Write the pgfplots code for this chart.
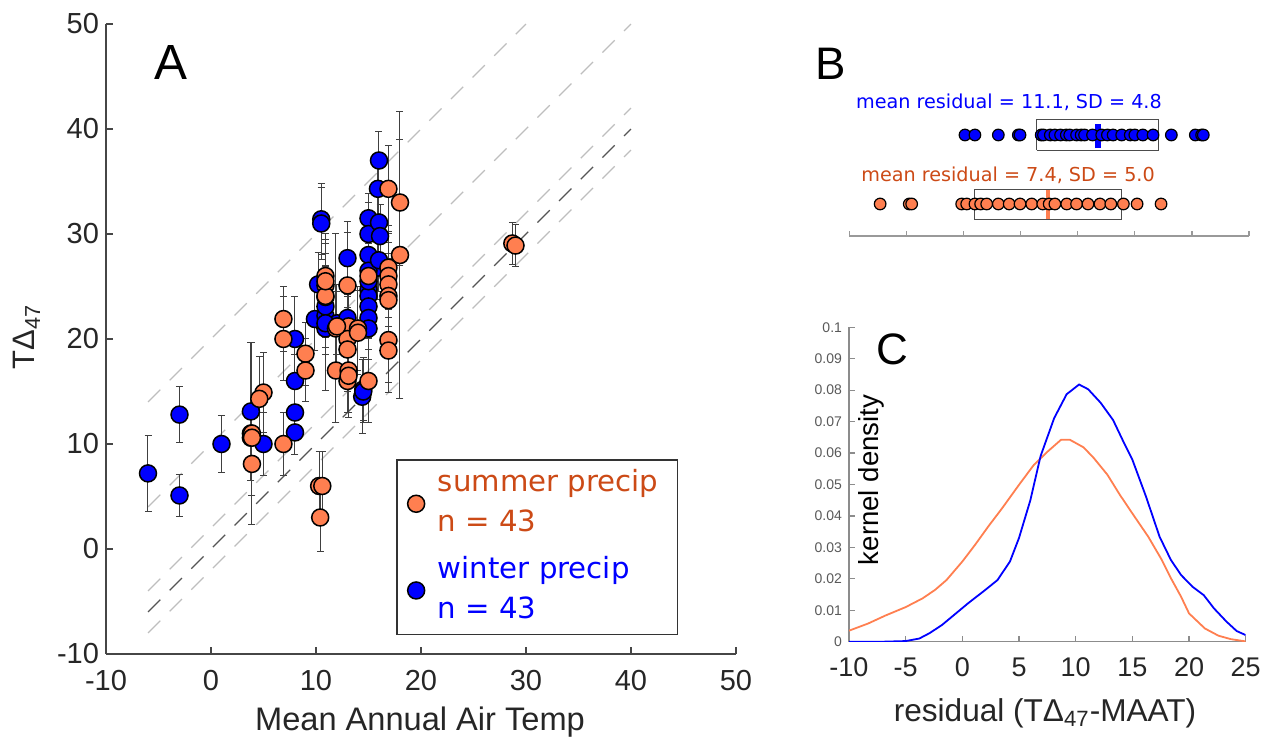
\documentclass[border=0pt]{standalone}
\usepackage{fontspec}
\setmainfont{Liberation Sans}
\newfontfamily\dejavu{DejaVu Sans}
\usepackage{pgfplots}
\pgfplotsset{compat=1.18}
\usepackage{pgfplotstable}

\definecolor{sumfill}{RGB}{255,127,80}
\definecolor{sumtxt}{RGB}{204,74,22}
\definecolor{winfill}{RGB}{0,0,255}
\definecolor{axgray}{RGB}{70,70,70}
\definecolor{lblgray}{RGB}{38,38,38}
\definecolor{lightdash}{RGB}{190,190,190}
\definecolor{darkdash}{RGB}{85,85,85}

\pgfplotsset{mylegimg/.style={legend image code/.code={\path (0pt,0pt) -- (9.7pt,0pt); \draw[##1] plot coordinates {(4.85pt,0pt)};}}}

% Panel A: winter precipitation sites (MAAT, T_D47, error)
\pgfplotstableread{
x y ey
-6.0 7.2 3.6
-3.0 12.8 2.7
-3.0 5.1 2.0
1.0 10.0 2.7
3.8 13.1 6.6
3.8 10.6 2.5
5.0 10.0 3.0
8.0 11.1 2.1
8.0 13.0 2.5
8.0 16.0 2.5
8.0 20.0 4.0
9.9 21.9 3.0
10.9 21.0 5.9
10.9 22.2 3.0
10.9 23.1 3.0
10.2 25.2 3.0
10.5 31.4 3.4
10.5 31.0 3.4
13.0 27.7 3.5
15.0 31.5 2.4
15.0 30.0 3.0
15.0 28.0 3.0
15.0 24.7 3.0
15.0 24.1 3.0
15.0 23.1 3.0
15.0 22.0 3.0
14.4 14.5 3.5
14.5 15.2 3.0
16.0 37.0 2.8
15.9 34.3 3.0
16.0 31.1 3.0
16.1 29.8 3.0
15.9 26.8 3.0
15.0 25.5 3.0
3.8 11.0 2.5
10.9 24.0 3.0
15.0 26.5 3.0
16.0 27.5 3.0
12.0 21.5 3.0
13.0 22.0 3.0
15.0 21.0 3.0
10.9 21.5 3.0
14.5 15.0 3.0
}\winterA

% Panel A: summer precipitation sites
\pgfplotstableread{
x y ey
6.9 21.9 3.1
6.9 20.0 4.0
9.0 18.6 3.0
9.0 17.0 3.0
5.0 14.9 3.8
4.6 14.3 4.0
3.9 11.0 8.7
3.9 8.1 3.0
6.9 10.0 3.0
10.3 6.0 3.3
10.6 6.0 3.3
10.4 3.0 3.2
11.9 21.0 9.0
13.1 21.2 4.0
14.0 21.0 4.0
13.0 20.0 4.0
13.0 19.0 4.0
11.9 17.0 5.0
13.1 17.0 4.0
13.0 16.0 3.0
15.0 16.0 4.0
16.9 19.9 4.0
16.9 18.9 4.0
16.9 34.3 4.1
18.0 33.0 6.0
18.0 28.0 13.7
16.9 26.8 4.0
16.9 26.0 4.0
16.9 25.2 4.0
16.9 24.1 4.0
10.9 26.0 4.0
10.9 25.1 4.0
10.9 24.1 4.0
13.0 25.1 5.0
15.0 26.0 4.0
28.7 29.1 2.0
29.0 28.9 2.0
3.9 10.6 3.0
16.9 23.7 4.0
12.0 21.2 4.0
13.1 16.5 4.0
10.9 25.5 4.0
14.0 20.6 4.0
}\summerA

% Panel B: residuals
\pgfplotstableread{
r y
0.13 2
1.0 2
3.05 2
4.8 2
4.95 2
6.8 2
7.0 2
7.6 2
8.0 2
8.5 2
9.0 2
9.3 2
9.9 2
10.3 2
10.6 2
11.3 2
12.1 2
12.6 2
13.1 2
13.85 2
14.6 2
15.0 2
15.7 2
16.6 2
18.2 2
20.3 2
20.85 2
21.0 2
}\winterB

\pgfplotstableread{
r y
-7.3 1
-4.75 1
-4.54 1
-0.16 1
0.28 1
1.0 1
1.5 1
2.03 1
3.05 1
4.0 1
4.95 1
5.97 1
6.94 1
7.5 1
8.0 1
9.04 1
9.9 1
10.9 1
11.95 1
12.9 1
14.0 1
15.2 1
17.3 1
}\summerB

% Panel C: kernel densities
\pgfplotstableread{
x y
-10 0.0035
-8.3 0.0058
-6.8 0.0083
-5 0.0110
-3.5 0.0138
-2.4 0.0165
-1.4 0.0196
0 0.0255
1.1 0.0307
2.3 0.0367
3.5 0.0424
5 0.0499
6.3 0.0562
7.5 0.0604
8.7 0.0642
9.5 0.0642
10.7 0.0618
11.6 0.0584
12.8 0.0531
13.9 0.0467
15 0.0408
16.4 0.0334
17.6 0.0260
18.4 0.0202
19.3 0.0143
20 0.0090
21.4 0.0042
22.6 0.0019
23.7 0.0008
25 0.0001
}\kdeS

\pgfplotstableread{
x y
-10 0.0
-7 0.0
-5 0.0002
-3.8 0.0010
-2.9 0.0027
-1.8 0.0053
-0.9 0.0080
0.5 0.0122
2.0 0.0164
3.1 0.0196
4.2 0.0255
5.0 0.0330
6.0 0.0450
6.9 0.0590
8.1 0.0711
9.2 0.0787
10.3 0.0818
11.1 0.0803
12.2 0.0760
13.3 0.0705
14.2 0.0637
15 0.0579
16.2 0.0462
17.4 0.0334
18.4 0.0260
19.3 0.0212
20.3 0.0175
21.3 0.0148
22.2 0.0106
23.3 0.0064
24.2 0.0034
25 0.0021
}\kdeW

\begin{document}
\begin{tikzpicture}
\path[use as bounding box] (0,0) rectangle (632.5pt,369pt);

% ---------------- Panel A ----------------
\begin{axis}[
  at={(53pt,42pt)}, anchor=south west,
  scale only axis, width=315pt, height=315pt,
  xmin=-10, xmax=50, ymin=-10, ymax=50,
  xtick={-10,0,10,20,30,40,50}, ytick={-10,0,10,20,30,40,50},
  axis lines=left, axis line style={-, draw=axgray, line width=0.6pt},
  tick align=inside, major tick length=3.5pt,
  tick style={draw=axgray, line width=0.6pt},
  /pgf/number format/assume math mode=true,
  ticklabel style={font=\fontsize{14.5}{17}\selectfont, text=lblgray},
  xticklabel style={yshift=-4.6pt},
  legend style={at={(axis cs:17.62,8.57)}, anchor=north west,
    draw=black!80, line width=0.75pt, fill=white,
    inner xsep=4.85pt, inner ysep=2.3pt, row sep=3.95pt, column sep=6pt,
    nodes={inner sep=0pt, text depth={}},
    font=\dejavu\fontsize{14.6}{19.7}\selectfont,
    cells={anchor=west}},
]
\addplot[lightdash, line width=0.55pt, dash pattern=on 8.7pt off 6.6pt, forget plot] coordinates {(-6,14) (30,50)};
\addplot[lightdash, line width=0.55pt, dash pattern=on 8.7pt off 6.6pt, forget plot] coordinates {(-6,4) (40,50)};
\addplot[lightdash, line width=0.55pt, dash pattern=on 8.7pt off 6.6pt, forget plot] coordinates {(-6,-4) (40,42)};
\addplot[lightdash, line width=0.55pt, dash pattern=on 8.7pt off 6.6pt, forget plot] coordinates {(-6,-8) (40,38)};
\addplot[darkdash, line width=0.65pt, dash pattern=on 8.7pt off 6.6pt, forget plot] coordinates {(-6,-6) (40,40)};

\addplot[forget plot, only marks, mark=none,
  error bars/.cd, y dir=both, y explicit,
  error bar style={draw=black!75, line width=0.5pt},
  error mark options={draw=black!75, line width=0.5pt, mark size=1.75pt, rotate=90}]
  table[x=x, y=y, y error=ey] {\winterA};
\addplot[forget plot, only marks, mark=none,
  error bars/.cd, y dir=both, y explicit,
  error bar style={draw=black!75, line width=0.5pt},
  error mark options={draw=black!75, line width=0.5pt, mark size=1.75pt, rotate=90}]
  table[x=x, y=y, y error=ey] {\summerA};

\addplot[forget plot, only marks, mark=*, mark size=4.25pt,
  mark options={fill=winfill, draw=black, line width=0.75pt}]
  table[x=x, y=y] {\winterA};
\addplot[forget plot, only marks, mark=*, mark size=4.25pt,
  mark options={fill=sumfill, draw=black, line width=0.75pt}]
  table[x=x, y=y] {\summerA};

\addlegendimage{mylegimg, mark=*, mark size=4.25pt, draw=none,
  mark options={fill=sumfill, draw=black, line width=0.75pt}}
\addlegendentry{\textcolor{sumtxt}{\begin{tabular}{@{}l@{\hspace{4.8pt}}}summer precip\\n = 43\end{tabular}}}
\addlegendimage{mylegimg, mark=*, mark size=4.25pt, draw=none,
  mark options={fill=winfill, draw=black, line width=0.75pt}}
\addlegendentry{\textcolor{winfill}{\begin{tabular}{@{}l@{\hspace{4.8pt}}}winter precip\\n = 43\end{tabular}}}
\end{axis}

\node[anchor=base, font=\fontsize{24.7}{28}\selectfont] at (85.4pt,329.35pt) {A};
\node[anchor=base, rotate=90, font=\fontsize{15.5}{18}\selectfont, text=lblgray] at (17.5pt,200.5pt) {TΔ\textsubscript{47}};
\node[anchor=base, font=\fontsize{16.3}{19}\selectfont, text=lblgray] at (210pt,3.8pt) {Mean Annual Air Temp};

% ---------------- Panel B ----------------
\begin{axis}[
  at={(424.65pt,251pt)}, anchor=south west,
  scale only axis, width=199.85pt, height=71.2pt,
  xmin=-10, xmax=25, ymin=0.536, ymax=2.6,
  axis x line=bottom, axis y line=none,
  axis line style={-, draw=black!40, line width=0.6pt},
  xtick={-10,-5,0,5,10,15,20,25}, xticklabels={}, ytick=\empty,
  tick align=inside, major tick length=2.5pt,
  tick style={draw=black!40, line width=0.6pt},
  clip=false,
]
\addplot[only marks, mark=*, mark size=2.9pt,
  mark options={fill=winfill, draw=black, line width=0.6pt}]
  table[x=r, y=y] {\winterB};
\addplot[only marks, mark=*, mark size=2.9pt,
  mark options={fill=sumfill, draw=black, line width=0.6pt}]
  table[x=r, y=y] {\summerB};
\addplot[draw=black!70, line width=0.5pt, mark=none] coordinates {(6.41,1.78) (17.06,1.78) (17.06,2.23) (6.41,2.23) (6.41,1.78)};
\addplot[draw=black!70, line width=0.5pt, mark=none] coordinates {(0.92,0.77) (13.85,0.77) (13.85,1.21) (0.92,1.21) (0.92,0.77)};
\addplot[winfill, line width=2.8pt, mark=none] coordinates {(11.8,1.81) (11.8,2.16)};
\addplot[sumfill, line width=2.1pt, mark=none] coordinates {(7.4,0.78) (7.4,1.2)};
\node[anchor=base, text=winfill, font=\dejavu\fontsize{9.6}{11}\selectfont] at (axis cs:3.98,2.387) {mean residual = 11.1, SD = 4.8};
\node[anchor=base, text=sumtxt, font=\dejavu\fontsize{9.6}{11}\selectfont] at (axis cs:3.9,1.323) {mean residual = 7.4, SD = 5.0};
\end{axis}
\node[anchor=base, font=\fontsize{22.8}{26}\selectfont] at (415.5pt,329pt) {B};

% ---------------- Panel C ----------------
\begin{axis}[
  at={(424.5pt,48.15pt)}, anchor=south west,
  scale only axis, width=198.35pt, height=157.2pt,
  xmin=-10, xmax=25, ymin=0, ymax=0.1,
  axis lines=left, axis line style={-, draw=black!45, line width=0.6pt},
  xtick={-10,-5,0,5,10,15,20,25},
  ytick={0,0.01,0.02,0.03,0.04,0.05,0.06,0.07,0.08,0.09,0.1},
  scaled y ticks=false,
  tick align=inside, major tick length=3pt,
  tick style={draw=black!45, line width=0.6pt},
  /pgf/number format/assume math mode=true,
  xticklabel style={font=\fontsize{13.5}{16}\selectfont, text=lblgray, yshift=-4.5pt},
  yticklabel style={font=\fontsize{7}{8}\selectfont, text=black!65,
    /pgf/number format/fixed, /pgf/number format/precision=2},
]
\addplot[sumfill, line width=0.9pt, mark=none] table[x=x, y=y] {\kdeS};
\addplot[winfill, line width=0.9pt, mark=none] table[x=x, y=y] {\kdeW};
\end{axis}
\node[anchor=base, font=\fontsize{22}{26}\selectfont] at (446pt,186.5pt) {C};
\node[anchor=base, rotate=90, font=\fontsize{13.8}{16}\selectfont] at (439.15pt,129pt) {kernel density};
\node[anchor=base, font=\fontsize{15.8}{18}\selectfont, text=lblgray] at (522.5pt,8.15pt) {residual (TΔ\textsubscript{47}-MAAT)};
\end{tikzpicture}
\end{document}
